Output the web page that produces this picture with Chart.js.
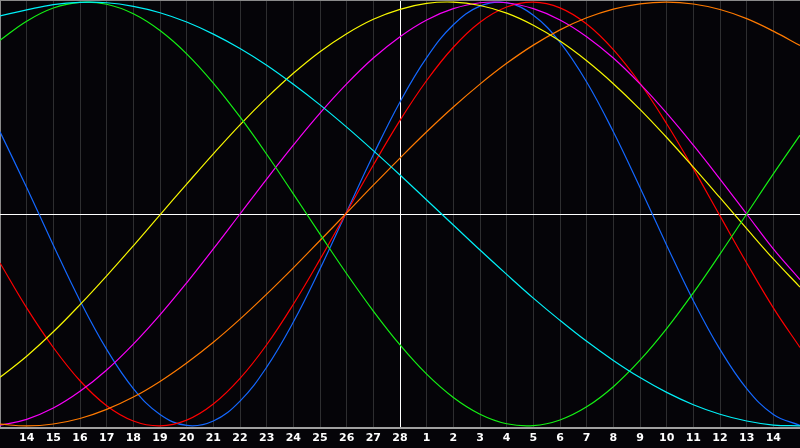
<!DOCTYPE html>
<html>
<head>
<meta charset="utf-8">
<script src="https://cdn.jsdelivr.net/npm/chart.js@4/dist/chart.umd.min.js"></script>
<style>
  html, body { margin:0; padding:0; background:#050408; }
  #wrap { width:800px; height:448px; }
</style>
</head>
<body>
<div id="wrap"><canvas id="bio"></canvas></div>
<script>
'use strict';

// day labels, first and last slot are the chart edges (no label)
const days = ['', '14','15','16','17','18','19','20','21','22','23','24','25','26','27','28',
              '1','2','3','4','5','6','7','8','9','10','11','12','13','14', ''];

// rhythm values in % (-100..100), one per day slot
const physical     = [38.8,12.5,-14.7,-40.9,-63.9,-82.4,-94.6,-99.8,-97.7,-88.3,-72.3,-51.0,-25.9,1.1,28.0,52.9,73.8,89.3,98.1,99.7,93.8,81.0,62.3,38.8,12.5,-14.7,-40.9,-63.9,-82.4,-94.6,-99.8];
const emotional    = [-23.1,-44.3,-63.0,-78.7,-90.5,-97.7,-100,-97.3,-89.7,-77.6,-61.7,-42.6,-21.4,0.9,23.1,44.2,63.0,78.7,90.5,97.7,100,97.3,89.7,77.6,61.7,42.6,21.4,-0.9,-23.1,-44.3,-63.0];
const intellectual = [82.0,91.0,97.2,99.9,99.0,94.5,86.6,75.6,61.8,45.8,28.2,9.5,-9.5,-28.2,-45.8,-61.8,-75.6,-86.6,-94.5,-99.0,-99.9,-97.2,-91.0,-81.5,-69.0,-54.1,-37.2,-18.9,0,18.9,37.2];
const intuitive    = [-99.7,-96.9,-91.6,-83.7,-73.6,-61.4,-47.6,-32.5,-16.5,0,16.5,32.5,47.6,61.4,73.6,83.7,91.6,96.9,99.7,99.7,96.9,91.6,83.7,73.6,61.4,47.6,32.5,16.5,0,-16.5,-31.0];
const aesthetic    = [-77.1,-67.1,-55.6,-42.8,-29.2,-15.0,-0.4,14.1,28.4,42.1,54.8,66.4,76.6,85.1,91.9,96.6,99.4,100,98.4,94.8,89.1,81.6,72.3,61.5,49.4,36.1,22.1,7.7,-6.9,-21.2,-34.5];
const awareness    = [-99.2,-100,-99.1,-96.5,-92.2,-86.4,-79.0,-70.3,-60.5,-49.6,-37.8,-25.4,-12.5,0.5,13.6,26.4,38.8,50.5,61.3,71.1,79.7,86.9,92.6,96.7,99.2,100,99.1,96.5,92.2,86.3,79.5];
const spiritual    = [93.5,96.3,98.8,99.9,99.7,98.0,95.0,90.6,84.9,78.1,70.2,61.2,51.5,41.0,29.9,18.4,6.6,-5.2,-17.0,-28.5,-39.7,-50.2,-60.1,-69.1,-77.2,-84.2,-90.0,-94.5,-97.7,-99.6,-100];

const TODAY = 15; // slot of day 28
const YMAX = 101;

const line = (data, color) => ({
  data, borderColor: color, borderWidth: 1.2, pointRadius: 0, pointHoverRadius: 0,
  tension: 0.4, fill: false,
});

new Chart(document.getElementById('bio'), {
  type: 'line',
  data: {
    labels: days,
    datasets: [
      line(spiritual, '#00f0f8'),
      line(intellectual, '#14f014'),
      line(aesthetic, '#f8f800'),
      line(awareness, '#ff7a00'),
      line(intuitive, '#f800f8'),
      line(emotional, '#ff0000'),
      line(physical, '#1468ff'),
    ],
  },
  options: {
    responsive: true, maintainAspectRatio: false, animation: false,
    layout: { padding: 0, autoPadding: false },
    plugins: { legend: { display: false }, tooltip: { enabled: false } },
    scales: {
      x: {
        offset: false,
        grid: {
          drawTicks: false, lineWidth: 1,
          color: c => c.index === TODAY ? '#ffffff' : (c.index === 0 || c.index === days.length - 1) ? '#8a8a8a' : '#2e2e30',
        },
        border: { display: true, color: '#a0a0a0', width: 2 },
        ticks: { color: '#ffffff', padding: 4, autoSkip: false, maxRotation: 0,
                 font: { family: 'DejaVu Sans', size: 11, weight: 'bold' } },
        afterFit: s => { s.height = 20; s.paddingLeft = 0; s.paddingRight = 0; },
      },
      y: {
        min: -YMAX, max: YMAX,
        grid: {
          drawTicks: false,
          color: c => c.tick.value === 0 ? '#ffffff' : c.tick.value >= YMAX ? '#8a8a8a' : 'transparent',
        },
        border: { display: false },
        ticks: { display: false, stepSize: 50 },
        afterFit: s => { s.width = 0; s.paddingTop = 0; s.paddingBottom = 0; },
      },
    },
  },
});
</script>
</body>
</html>
